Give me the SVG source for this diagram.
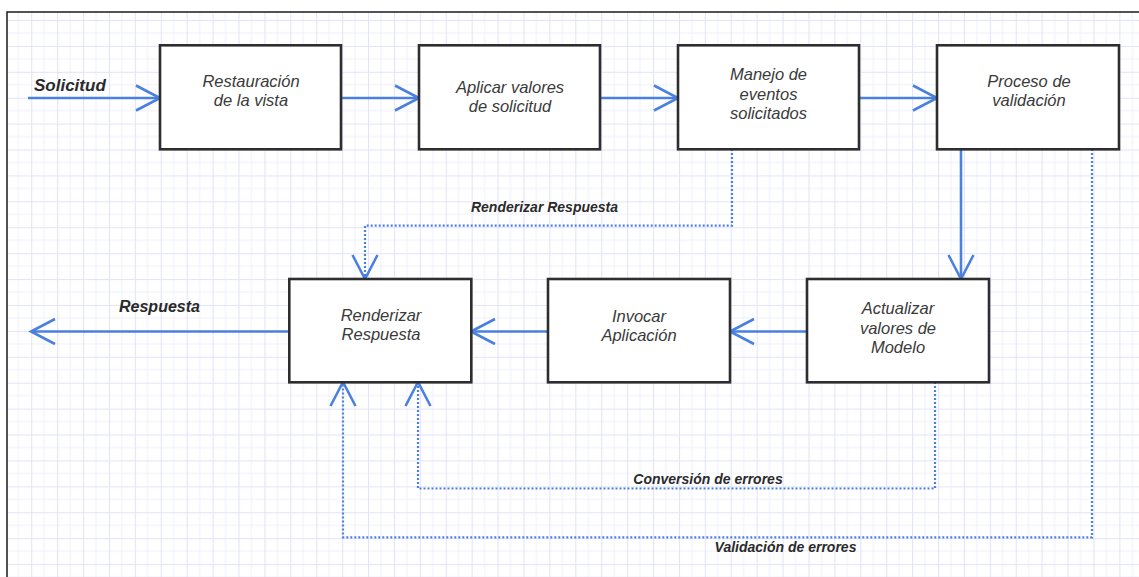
<svg xmlns="http://www.w3.org/2000/svg" width="1139" height="577" viewBox="0 0 1139 577">
  <style>
    .box { fill: #ffffff; stroke: #2e2e2e; stroke-width: 2.6; }
    .lbl { font-family: "Liberation Sans", Arial, sans-serif; font-style: italic; font-size: 16.5px; fill: #3a3a3a; text-anchor: middle; }
    .flow { fill: none; stroke: #4a80df; stroke-width: 2.6; }
    .dot { fill: none; stroke: #4a80df; stroke-width: 2.2; stroke-dasharray: 2 2; }
    .elbl { font-family: "Liberation Sans", Arial, sans-serif; font-style: italic; font-weight: bold; font-size: 14px; fill: #2a2a2a; text-anchor: middle; }
    .io { font-family: "Liberation Sans", Arial, sans-serif; font-style: italic; font-weight: bold; fill: #2a2a2a; }
  </style>
  <defs>
    <pattern id="grid" patternUnits="userSpaceOnUse" x="5.3" y="20" width="25.908" height="25.908">
      <path d="M12.954,0 V25.908 M0,12.954 H25.908" stroke="#efeffd" stroke-width="1" fill="none"/>
      <path d="M0.5,0 V25.908 M0,0.5 H25.908" stroke="#e3e3fa" stroke-width="1.2" fill="none"/>
    </pattern>
    <marker id="open" viewBox="-2 -2 30 30" refX="24" refY="12.5" markerWidth="30" markerHeight="30" markerUnits="userSpaceOnUse" orient="auto" overflow="visible">
      <path d="M0,0 L24,12.5 L0,25" fill="none" stroke="#4a80df" stroke-width="2.6" stroke-dasharray="none"/>
    </marker>
  </defs>

  <!-- page background, grid and frame -->
  <rect x="0" y="0" width="1139" height="577" fill="#ffffff"/>
  <rect x="7" y="12" width="1132" height="565" fill="url(#grid)"/>
  <path d="M7,577 V12 H1139" fill="none" stroke="#1a1a1a" stroke-width="1.5"/>

  <!-- connectors -->
  <g id="connectors">
    <path class="flow" d="M28,98 H160" marker-end="url(#open)"/>
    <path class="flow" d="M341,98 H419" marker-end="url(#open)"/>
    <path class="flow" d="M600,98 H678" marker-end="url(#open)"/>
    <path class="flow" d="M859,98 H937" marker-end="url(#open)"/>
    <path class="flow" d="M961,149 V279" marker-end="url(#open)"/>
    <path class="flow" d="M807,331.5 H730" marker-end="url(#open)"/>
    <path class="flow" d="M548,331.5 H471" marker-end="url(#open)"/>
    <path class="flow" d="M289,331.5 H31" marker-end="url(#open)"/>

    <path class="dot" d="M732,149 V225.7 H365 V279" marker-end="url(#open)"/>
    <path class="dot" d="M935,382 V488.5 H418 V382" marker-end="url(#open)"/>
    <path class="dot" d="M1092,149 V537.3 H343 V382" marker-end="url(#open)"/>

    <text class="io" x="34" y="90.7" font-size="17">Solicitud</text>
    <text class="io" x="119" y="311.7" font-size="16">Respuesta</text>
    <text class="elbl" x="544.5" y="211.7">Renderizar Respuesta</text>
    <text class="elbl" x="708" y="484">Conversión de errores</text>
    <text class="elbl" x="785.5" y="552">Validación de errores</text>
  </g>

  <!-- phase nodes -->
  <g id="restauracion">
    <rect class="box" x="160" y="45.3" width="181" height="104"/>
    <text class="lbl" x="251" y="87">Restauración</text>
    <text class="lbl" x="251" y="106">de la vista</text>
  </g>
  <g id="aplicar-valores">
    <rect class="box" x="419" y="45.3" width="181" height="104"/>
    <text class="lbl" x="510" y="93">Aplicar valores</text>
    <text class="lbl" x="510" y="112">de solicitud</text>
  </g>
  <g id="manejo-eventos">
    <rect class="box" x="678" y="45.3" width="181" height="104"/>
    <text class="lbl" x="768.5" y="80">Manejo de</text>
    <text class="lbl" x="768.5" y="99.5">eventos</text>
    <text class="lbl" x="768.5" y="119">solicitados</text>
  </g>
  <g id="proceso-validacion">
    <rect class="box" x="937" y="45.3" width="182" height="104"/>
    <text class="lbl" x="1029" y="87">Proceso de</text>
    <text class="lbl" x="1029" y="106">validación</text>
  </g>
  <g id="renderizar-respuesta">
    <rect class="box" x="289.3" y="279" width="182" height="103.3"/>
    <text class="lbl" x="381" y="321">Renderizar</text>
    <text class="lbl" x="381" y="340">Respuesta</text>
  </g>
  <g id="invocar-aplicacion">
    <rect class="box" x="548" y="279" width="182" height="103.3"/>
    <text class="lbl" x="639" y="322">Invocar</text>
    <text class="lbl" x="639" y="341">Aplicación</text>
  </g>
  <g id="actualizar-modelo">
    <rect class="box" x="807" y="279" width="182" height="103.3"/>
    <text class="lbl" x="898" y="314">Actualizar</text>
    <text class="lbl" x="898" y="333.5">valores de</text>
    <text class="lbl" x="898" y="353">Modelo</text>
  </g>
</svg>
